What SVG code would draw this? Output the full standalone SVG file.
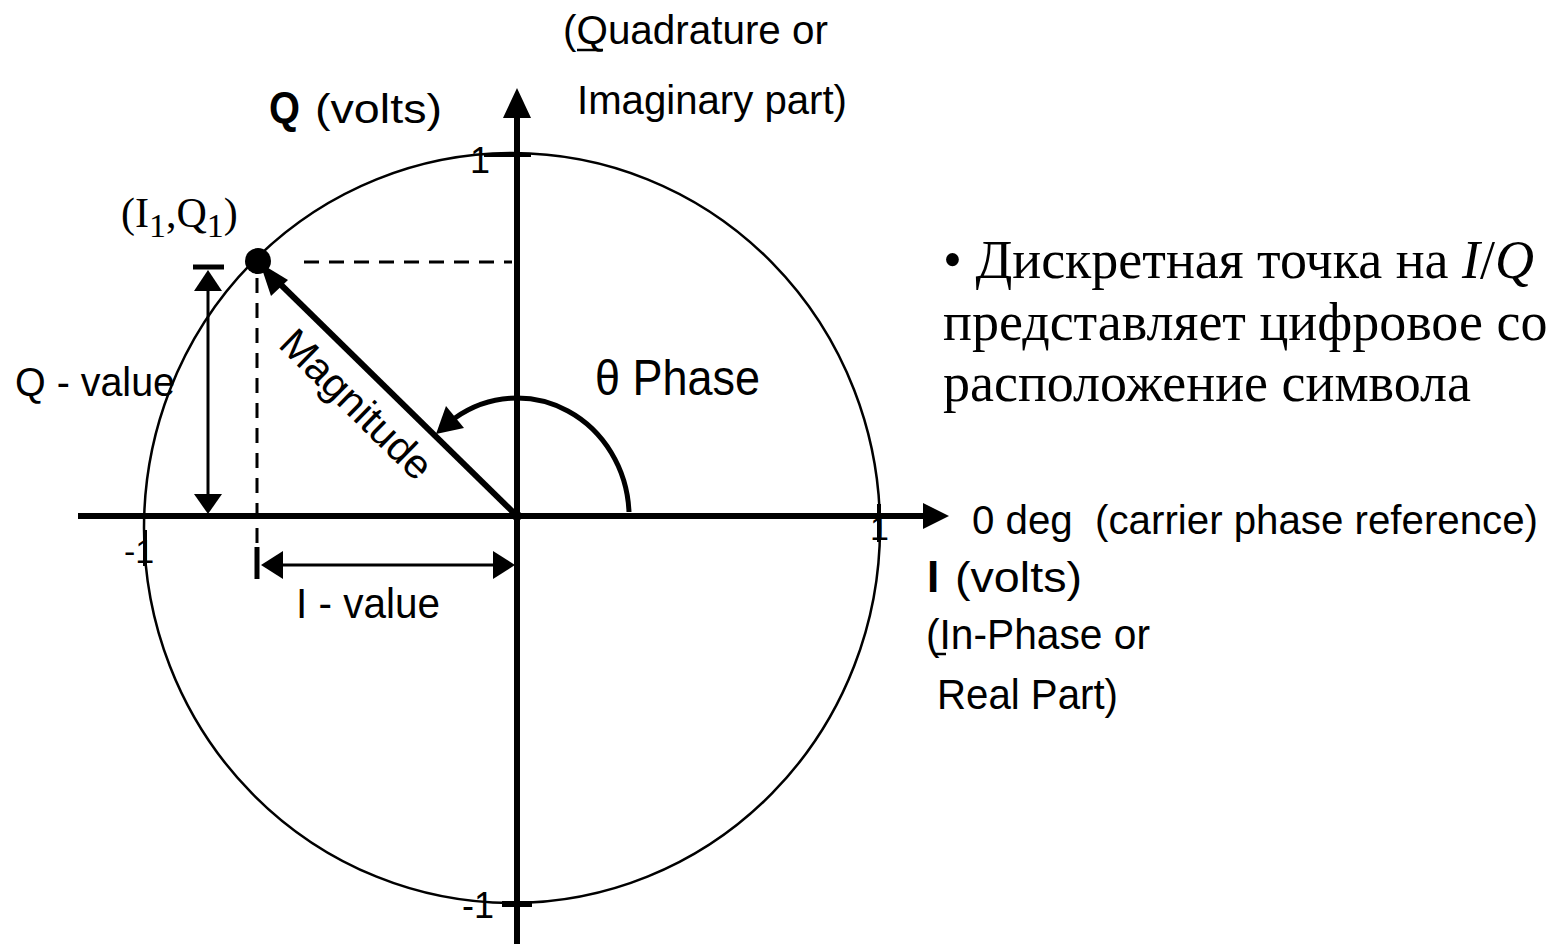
<svg xmlns="http://www.w3.org/2000/svg" width="1552" height="944" viewBox="0 0 1552 944">
<style>
.sans{font-family:"Liberation Sans Narrow","Liberation Sans",Arial,sans-serif;fill:#000}
.serif{font-family:"Liberation Serif","Times New Roman",serif;fill:#000}
.thick{stroke:#000;stroke-width:6;fill:none}
.thin{stroke:#000;stroke-width:3;fill:none}
.dash{stroke:#000;stroke-width:3;fill:none;stroke-dasharray:15 10}
.head{fill:#000;stroke:none}
</style>
<rect width="1552" height="944" fill="#fff"/>
<g id="unit-circle">
<ellipse cx="512" cy="528" rx="368" ry="375" fill="none" stroke="#000" stroke-width="2.5"/>
</g>
<g id="connectors">
<!-- axes -->
<line class="thick" x1="517" y1="112" x2="517" y2="944"/>
<polygon class="head" points="517,88 503,118 531,118"/>
<line class="thick" x1="78" y1="516" x2="928" y2="516"/>
<polygon class="head" points="949,516 923,503 923,529"/>
<!-- ticks -->
<line stroke="#000" stroke-width="4" x1="484" y1="155" x2="531" y2="155"/>
<line stroke="#000" stroke-width="6" x1="502" y1="904" x2="532" y2="904"/>
<line stroke="#000" stroke-width="4" x1="145" y1="530" x2="145" y2="566"/>
<line stroke="#000" stroke-width="4" x1="879" y1="504" x2="879" y2="542"/>
<!-- magnitude -->
<line class="thick" x1="517" y1="516" x2="272" y2="276"/>
<polygon class="head" points="260,263 288,280 271,296"/>
<circle cx="517" cy="516" r="5" fill="#000"/>
<!-- projections -->
<line class="dash" x1="304" y1="262" x2="512" y2="262"/>
<line class="dash" x1="257" y1="278" x2="257" y2="546"/>
<!-- Q-value arrow -->
<line stroke="#000" stroke-width="5" x1="193" y1="267" x2="224" y2="267"/>
<polygon class="head" points="208,270 194,291 222,291"/>
<line class="thin" x1="208" y1="290" x2="208" y2="497"/>
<polygon class="head" points="208,514 194,494 222,494"/>
<!-- I-value arrow -->
<line stroke="#000" stroke-width="5" x1="257" y1="547" x2="257" y2="579"/>
<polygon class="head" points="261,565 283,551 283,579"/>
<line class="thin" x1="282" y1="565" x2="494" y2="565"/>
<polygon class="head" points="515,565 493,551 493,579"/>
<!-- phase arc -->
<path class="thick" style="stroke-width:5" d="M629,512 A112 119 0 0 0 455,418"/>
<polygon class="head" points="436,434 464,428 446,406"/>
</g>
<g id="point">
<circle cx="258" cy="261" r="13" fill="#000"/>
<text class="serif" x="121" y="227" font-size="42">(I<tspan font-size="34" dy="10">1</tspan><tspan dy="-10">,Q</tspan><tspan font-size="34" dy="10">1</tspan><tspan dy="-10">)</tspan></text>
</g>
<g id="axis-labels">
<text class="sans" x="563" y="44" font-size="41" textLength="265" lengthAdjust="spacingAndGlyphs">(Quadrature or</text>
<line stroke="#000" stroke-width="2.5" x1="577" y1="50" x2="603" y2="50"/>
<text class="sans" x="577" y="114" font-size="41" textLength="270" lengthAdjust="spacingAndGlyphs">Imaginary part)</text>
<text class="sans" x="269" y="123" font-size="44" font-weight="bold" textLength="31" lengthAdjust="spacingAndGlyphs">Q</text>
<text class="sans" x="315" y="123" font-size="41" textLength="127" lengthAdjust="spacingAndGlyphs">(volts)</text>
<text class="sans" x="470" y="173" font-size="36">1</text>
<text class="sans" x="462" y="918" font-size="36">-1</text>
<text class="sans" x="124" y="563" font-size="34">-1</text>
<text class="sans" x="870" y="540" font-size="34">1</text>
<text class="sans" x="972" y="534" font-size="40" xml:space="preserve" textLength="566" lengthAdjust="spacingAndGlyphs">0 deg  (carrier phase reference)</text>
<text class="sans" x="927" y="592" font-size="44" font-weight="bold">I</text>
<text class="sans" x="955" y="592" font-size="43" textLength="127" lengthAdjust="spacingAndGlyphs">(volts)</text>
<text class="sans" x="926" y="649" font-size="43" textLength="224" lengthAdjust="spacingAndGlyphs">(In-Phase or</text>
<line stroke="#000" stroke-width="2.5" x1="935" y1="654" x2="946" y2="654"/>
<text class="sans" x="937" y="709" font-size="43" textLength="181" lengthAdjust="spacingAndGlyphs">Real Part)</text>
</g>
<g id="value-labels">
<text class="sans" x="15" y="396" font-size="40" textLength="160" lengthAdjust="spacingAndGlyphs">Q - value</text>
<text class="sans" x="296" y="618" font-size="43" textLength="144" lengthAdjust="spacingAndGlyphs">I - value</text>
<text class="sans" x="595" y="395" font-size="50" textLength="165" lengthAdjust="spacingAndGlyphs">θ Phase</text>
<text class="sans" transform="translate(277,346) rotate(44.4)" font-size="41" textLength="195" lengthAdjust="spacingAndGlyphs">Magnitude</text>
</g>
<g id="note">
<text class="serif" x="943" y="278" font-size="54">• Дискретная точка на <tspan font-style="italic">I</tspan>/<tspan font-style="italic">Q</tspan></text>
<text class="serif" x="943" y="340" font-size="54">представляет цифровое со</text>
<text class="serif" x="943" y="401" font-size="54">расположение символа</text>
</g>
</svg>
